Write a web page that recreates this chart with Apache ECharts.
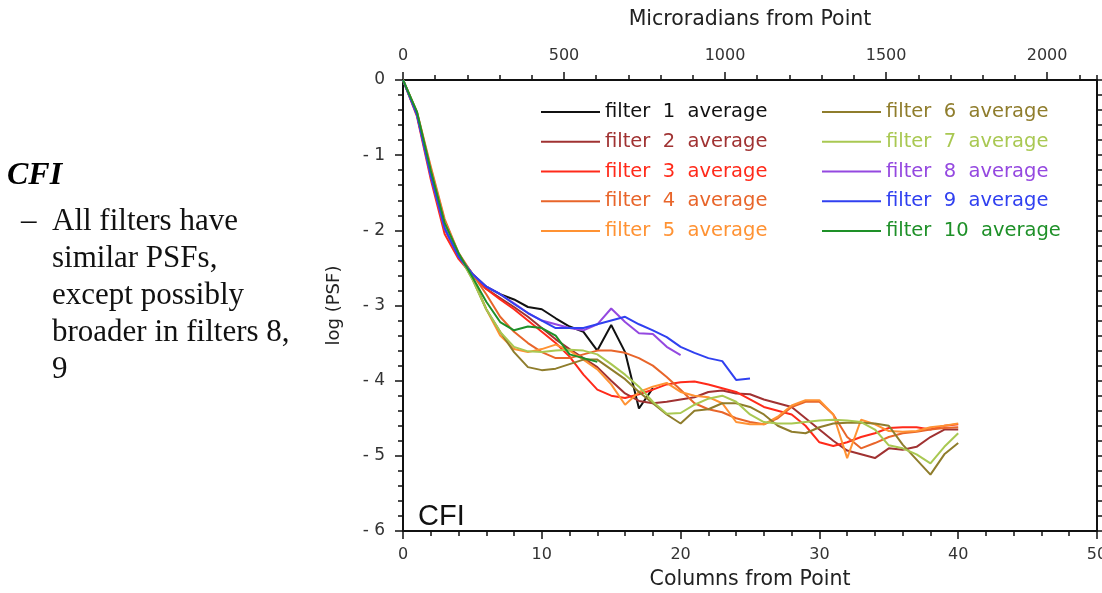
<!DOCTYPE html>
<html>
<head>
<meta charset="utf-8">
<script src="https://cdn.jsdelivr.net/npm/echarts@6/dist/echarts.min.js"></script>
<style>
html,body{margin:0;padding:0;background:#fff;}
#chart{width:1102px;height:593px;}
</style>
</head>
<body>
<div id="chart"></div>
<script>
// ---- data (log PSF per column from point) ----
const seriesNames = ['filter 1 average','filter 2 average','filter 3 average','filter 4 average','filter 5 average',
                     'filter 6 average','filter 7 average','filter 8 average','filter 9 average','filter 10 average'];
const seriesColors = ['#111111','#a03232','#ff2a1a','#e8652a','#ff9233','#8f7d2c','#a9c852','#9448e0','#3040f0','#1e9028'];

const f1 = [0,-0.45,-1.25,-1.95,-2.33,-2.58,-2.75,-2.85,-2.92,-3.02,-3.05,-3.17,-3.28,-3.35,-3.6,-3.26,-3.62,-4.37,-4.1];
const f2 = [0,-0.45,-1.27,-1.98,-2.35,-2.58,-2.78,-2.9,-3.02,-3.15,-3.3,-3.45,-3.58,-3.7,-3.82,-4.0,-4.17,-4.27,-4.3,-4.28,
            -4.25,-4.22,-4.15,-4.13,-4.17,-4.18,-4.25,-4.3,-4.35,-4.5,-4.65,-4.8,-4.93,-4.98,-5.03,-4.9,-4.92,-4.88,-4.75,-4.65,-4.65];
const f3 = [0,-0.48,-1.32,-2.05,-2.38,-2.6,-2.78,-2.92,-3.05,-3.2,-3.35,-3.5,-3.68,-3.92,-4.12,-4.2,-4.23,-4.18,-4.12,-4.05,
            -4.02,-4.01,-4.05,-4.1,-4.15,-4.25,-4.35,-4.4,-4.45,-4.6,-4.82,-4.87,-4.82,-4.75,-4.7,-4.63,-4.62,-4.62,-4.65,-4.6,-4.58];
const f4 = [0,-0.42,-1.15,-1.85,-2.3,-2.58,-2.85,-3.15,-3.35,-3.5,-3.62,-3.7,-3.7,-3.65,-3.6,-3.6,-3.63,-3.7,-3.8,-3.95,
            -4.12,-4.3,-4.38,-4.42,-4.5,-4.55,-4.58,-4.5,-4.35,-4.28,-4.28,-4.45,-4.75,-4.9,-4.83,-4.75,-4.7,-4.68,-4.65,-4.63,-4.62];
const f5 = [0,-0.43,-1.18,-1.88,-2.3,-2.62,-3.05,-3.4,-3.58,-3.62,-3.58,-3.52,-3.6,-3.72,-3.85,-4.05,-4.32,-4.15,-4.08,-4.03,
            -4.15,-4.2,-4.22,-4.3,-4.55,-4.58,-4.58,-4.48,-4.33,-4.26,-4.26,-4.45,-5.03,-4.52,-4.58,-4.67,-4.68,-4.67,-4.62,-4.6,-4.57];
const f6 = [0,-0.44,-1.22,-1.92,-2.32,-2.65,-3.05,-3.35,-3.62,-3.82,-3.86,-3.84,-3.78,-3.72,-3.72,-3.85,-3.98,-4.15,-4.3,-4.45,
            -4.57,-4.4,-4.38,-4.3,-4.3,-4.35,-4.45,-4.6,-4.68,-4.7,-4.62,-4.57,-4.56,-4.56,-4.57,-4.6,-4.85,-5.05,-5.25,-4.98,-4.83];
const f7 = [0,-0.44,-1.22,-1.92,-2.32,-2.65,-3.05,-3.35,-3.55,-3.61,-3.62,-3.6,-3.59,-3.6,-3.65,-3.78,-3.92,-4.08,-4.28,-4.44,
            -4.43,-4.32,-4.24,-4.2,-4.28,-4.45,-4.55,-4.57,-4.57,-4.55,-4.53,-4.52,-4.53,-4.55,-4.65,-4.86,-4.9,-4.98,-5.1,-4.88,-4.7];
const f8 = [0,-0.46,-1.28,-1.98,-2.35,-2.58,-2.75,-2.85,-2.97,-3.1,-3.2,-3.25,-3.3,-3.33,-3.25,-3.04,-3.22,-3.37,-3.38,-3.55,-3.66];
const f9 = [0,-0.46,-1.27,-1.97,-2.35,-2.58,-2.75,-2.85,-2.98,-3.1,-3.2,-3.3,-3.3,-3.3,-3.25,-3.2,-3.15,-3.25,-3.33,-3.42,
            -3.55,-3.63,-3.7,-3.74,-3.99,-3.97];
const f10 = [0,-0.42,-1.2,-1.9,-2.3,-2.62,-2.95,-3.22,-3.33,-3.28,-3.3,-3.4,-3.65,-3.7,-3.75];
const allSeries = [f1,f2,f3,f4,f5,f6,f7,f8,f9,f10];

// axis settings
const colMax = 50;          // columns from point
const microPerCol = 43.1;   // microradians per column (top axis)

const chart = echarts.init(document.getElementById('chart'));
const axisFont = 'DejaVu Sans, Arial, sans-serif';
const lineCol = '#111';

const series = allSeries.map((arr, i) => ({
  name: seriesNames[i],
  type: 'line',
  xAxisIndex: 0,
  yAxisIndex: 0,
  symbol: 'none',
  data: arr.map((v, k) => [k, v]),
  lineStyle: {color: seriesColors[i], width: 2},
  itemStyle: {color: seriesColors[i]},
  z: 3 + i,
  animation: false
}));

function legendData(idx) {
  return idx.map(i => ({name: seriesNames[i], textStyle: {color: seriesColors[i]}}));
}
const legendCommon = {
  orient: 'vertical',
  icon: 'rect',
  itemWidth: 59,
  itemHeight: 2,
  itemGap: 9.75,
  textStyle: {fontFamily: axisFont, fontSize: 19.5, lineHeight: 20},
  formatter: n => n.replace(/ /g, '  '),
  selectedMode: false
};

const tickStyle = {color: lineCol, width: 1.5};
const option = {
  backgroundColor: '#fff',
  animation: false,
  grid: {left: 403, right: 5, top: 80, bottom: 62, containLabel: false, outerBoundsMode: 'none'},
  legend: [
    Object.assign({left: 536, top: 97, data: legendData([0,1,2,3,4])}, legendCommon),
    Object.assign({left: 817, top: 97, data: legendData([5,6,7,8,9])}, legendCommon)
  ],
  xAxis: [
    {
      type: 'value', position: 'bottom', min: 0, max: colMax, interval: 10,
      name: 'Columns from Point', nameLocation: 'middle', nameGap: 38,
      nameTextStyle: {fontFamily: axisFont, fontSize: 20.5, color: '#222'},
      axisLine: {show: true, onZero: false, lineStyle: {color: lineCol, width: 2}},
      axisTick: {show: true, inside: false, length: 8, lineStyle: tickStyle},
      minorTick: {show: true, splitNumber: 5, length: 5, lineStyle: tickStyle},
      axisLabel: {fontFamily: axisFont, fontSize: 16, color: '#333', margin: 16},
      splitLine: {show: false}
    },
    {
      type: 'value', position: 'top', min: 0, max: colMax * microPerCol, interval: 500,
      name: 'Microradians from Point', nameLocation: 'middle', nameGap: 50,
      nameTextStyle: {fontFamily: axisFont, fontSize: 20.5, color: '#222'},
      axisLine: {show: true, onZero: false, lineStyle: {color: lineCol, width: 2}},
      axisTick: {show: true, inside: false, length: 8, lineStyle: tickStyle},
      axisLabel: {fontFamily: axisFont, fontSize: 16, color: '#333', margin: 16, showMaxLabel: false,
        formatter: v => String(v)},
      splitLine: {show: false}
    },
    {
      type: 'value', position: 'top', min: 0, max: colMax * microPerCol, interval: 100,
      axisLine: {show: false, onZero: false},
      axisTick: {show: true, inside: false, length: 5, lineStyle: tickStyle},
      axisLabel: {show: false},
      splitLine: {show: false}
    }
  ],
  yAxis: [
    {
      type: 'value', position: 'left', min: -6, max: 0, interval: 1,
      name: 'log (PSF)', nameLocation: 'middle', nameGap: 60, nameRotate: 90,
      nameTextStyle: {fontFamily: axisFont, fontSize: 18, color: '#222'},
      axisLine: {show: true, onZero: false, lineStyle: {color: lineCol, width: 2}},
      axisTick: {show: true, inside: false, length: 8, lineStyle: tickStyle},
      minorTick: {show: true, splitNumber: 5, length: 5, lineStyle: tickStyle},
      axisLabel: {fontFamily: axisFont, fontSize: 17, color: '#333', margin: 18,
        formatter: v => (v < 0 ? '- ' + Math.abs(v) : String(v))},
      splitLine: {show: false}
    },
    {
      type: 'value', position: 'right', min: -6, max: 0, interval: 1,
      axisLine: {show: true, onZero: false, lineStyle: {color: lineCol, width: 2}},
      axisTick: {show: true, inside: false, length: 8, lineStyle: tickStyle},
      minorTick: {show: true, splitNumber: 5, length: 5, lineStyle: tickStyle},
      axisLabel: {show: false},
      splitLine: {show: false}
    }
  ],
  graphic: [
    {type: 'text', left: 418, top: 502, style: {text: 'CFI', font: '29px Liberation Sans, Arial, sans-serif', fill: '#111'}},
    {type: 'text', left: 7, top: 160, style: {text: 'CFI', font: 'italic bold 32px Liberation Serif, Times New Roman, serif', fill: '#000'}},
    {type: 'text', left: 21, top: 206, style: {text: '–', font: '31px Liberation Serif, Times New Roman, serif', fill: '#111'}},
    {type: 'text', left: 52, top: 203, style: {
      text: 'All filters have\nsimilar PSFs,\nexcept possibly\nbroader in filters 8,\n9',
      font: '31px Liberation Serif, Times New Roman, serif', lineHeight: 37, fill: '#111'}}
  ],
  series: series
};
chart.setOption(option);
</script>
</body>
</html>
